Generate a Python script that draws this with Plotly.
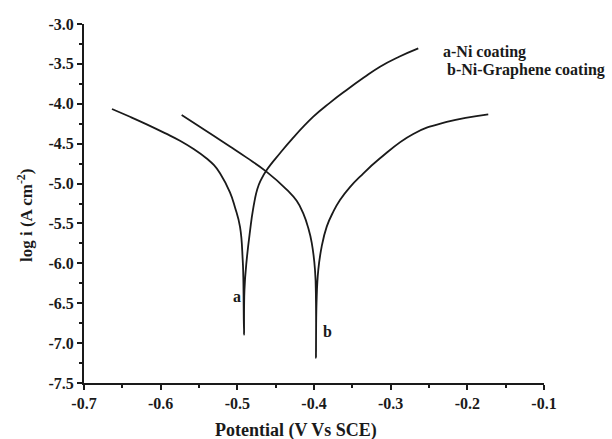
import plotly.graph_objects as go

# Tafel polarisation curves: potential (V vs SCE) against log current density
# a - Ni coating (cathodic branch down to E_corr, then anodic branch up)
ni_potential = [-0.6635, -0.6400, -0.6182, -0.5944, -0.5748, -0.5565, -0.5400, -0.5304,
                -0.5226, -0.5096, -0.5030, -0.4965, -0.4930, -0.4922, -0.4913,
                -0.4907, -0.4878, -0.4835, -0.4796, -0.4740, -0.4690, -0.4617, -0.4444,
                -0.4290, -0.4009, -0.3790, -0.3574, -0.3350, -0.3139, -0.2890, -0.2640]
ni_logi = [-4.065, -4.163, -4.258, -4.368, -4.463, -4.570, -4.685, -4.770,
           -4.870, -5.110, -5.300, -5.544, -5.957, -6.170, -6.897,
           -6.333, -5.957, -5.600, -5.331, -5.070, -4.950, -4.830, -4.620,
           -4.445, -4.162, -3.985, -3.827, -3.672, -3.535, -3.410, -3.305]

# b - Ni-Graphene coating
nig_potential = [-0.5726, -0.5530, -0.5314, -0.5096, -0.4878, -0.4621, -0.4356, -0.4226,
                 -0.4140, -0.4074, -0.4030, -0.3987, -0.3974, -0.3974,
                 -0.3967, -0.3944, -0.3900, -0.3834, -0.3748, -0.3661, -0.3531,
                 -0.3400, -0.3139, -0.2705, -0.2269, -0.1727]
nig_logi = [-4.140, -4.262, -4.397, -4.535, -4.675, -4.850, -5.075, -5.215,
            -5.375, -5.560, -5.740, -6.083, -6.496, -7.185,
            -6.496, -6.083, -5.791, -5.540, -5.352, -5.206, -5.045,
            -4.914, -4.683, -4.378, -4.228, -4.132]

curve_labels = ["a", "b"]
label_pos = [(-0.5009, -6.42), (-0.3822, -6.856)]
legend_lines = ["a-Ni coating", "b-Ni-Graphene coating"]

x_ticks = [-0.7, -0.6, -0.5, -0.4, -0.3, -0.2, -0.1]
y_ticks = [-3.0, -3.5, -4.0, -4.5, -5.0, -5.5, -6.0, -6.5, -7.0, -7.5]

FONT = "Liberation Serif"
INK = "#1a1a1a"

W, H = 612, 439
L, R, T, B = 84, 68, 24, 56
pw, ph = W - L - R, H - T - B


def px_to_paper(px, py):
    return (px - L) / pw, 1 - (py - T) / ph


fig = go.Figure()
for xs, ys, nm in [(ni_potential, ni_logi, "a"), (nig_potential, nig_logi, "b")]:
    fig.add_trace(go.Scatter(x=xs, y=ys, mode="lines", name=nm, showlegend=False,
                             line=dict(color=INK, width=1.8, shape="spline", smoothing=1.3)))

for lab, (lx, ly) in zip(curve_labels, label_pos):
    fig.add_annotation(x=lx, y=ly, text="<b>%s</b>" % lab, showarrow=False,
                       font=dict(family=FONT, size=16, color=INK))

# key text in the upper right
for txt, (kx, ky) in zip(legend_lines, [(441, 52), (445, 70)]):
    ax, ay = px_to_paper(kx, ky)
    fig.add_annotation(x=ax, y=ay, xref="paper", yref="paper", text="<b>%s</b>" % txt,
                       showarrow=False, xanchor="left", yanchor="middle",
                       font=dict(family=FONT, size=16, color=INK))

# axis titles
tx, ty = px_to_paper(296, 430)
fig.add_annotation(x=tx, y=ty, xref="paper", yref="paper",
                   text="<b>Potential (V Vs SCE)</b>", showarrow=False,
                   xanchor="center", yanchor="middle",
                   font=dict(family=FONT, size=18, color=INK))
tx, ty = px_to_paper(25, 215)
fig.add_annotation(x=tx, y=ty, xref="paper", yref="paper", textangle=-90,
                   text="<b>log i (A cm<sup>-2</sup>)</b>", showarrow=False,
                   xanchor="center", yanchor="middle",
                   font=dict(family=FONT, size=17, color=INK))

axis_common = dict(showline=True, linewidth=2, linecolor=INK, mirror=False,
                   ticks="outside", ticklen=5, tickwidth=2, tickcolor=INK,
                   showgrid=False, zeroline=False,
                   tickfont=dict(family=FONT, size=16, color=INK))

fig.update_xaxes(range=[-0.7, -0.1], tickvals=x_ticks,
                 ticktext=["<b>%.1f</b>" % v for v in x_ticks],
                 minor=dict(dtick=0.05, ticks="outside", ticklen=3, tickwidth=2, tickcolor=INK),
                 **axis_common)
fig.update_yaxes(range=[-7.5, -3.0], tickvals=y_ticks,
                 ticktext=["<b>%.1f</b>" % v for v in y_ticks],
                 minor=dict(dtick=0.25, ticks="outside", ticklen=3, tickwidth=2, tickcolor=INK),
                 **axis_common)

fig.update_layout(width=W, height=H, margin=dict(l=L, r=R, t=T, b=B),
                  paper_bgcolor="white", plot_bgcolor="white", showlegend=False)

fig.write_html("out.html")
